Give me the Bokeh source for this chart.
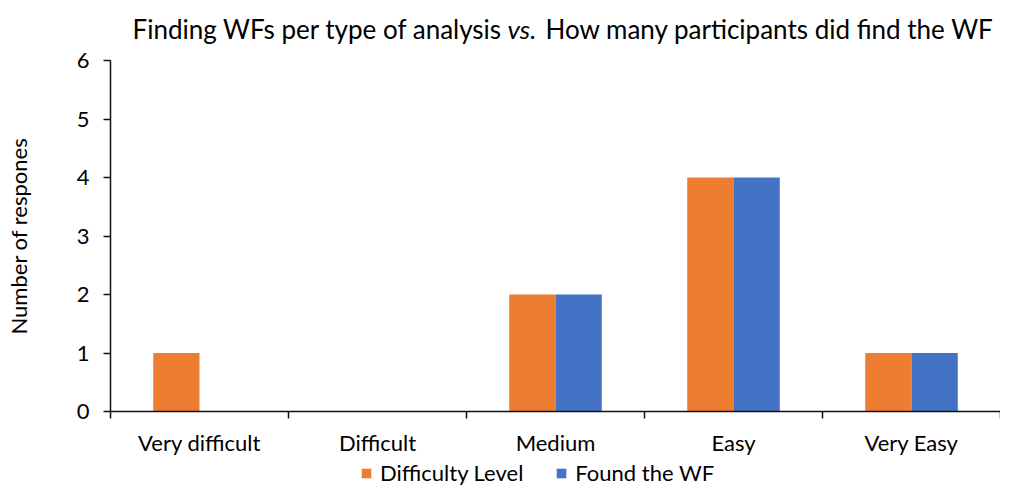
from bokeh.plotting import figure
from bokeh.layouts import column
from bokeh.models import FixedTicker, Legend, LegendItem, Range1d, ColumnDataSource
from bokeh.core.properties import value
from bokeh.transform import dodge
from bokeh.embed import file_html
from bokeh.resources import INLINE

categories = ["Very difficult", "Difficult", "Medium", "Easy", "Very Easy"]
difficulty_level = [1, 0, 2, 4, 1]
found_the_wf = [0, 0, 2, 4, 1]
y_ticks = [0, 1, 2, 3, 4, 5, 6]
series_names = ["Difficulty Level", "Found the WF"]
title_parts = ["Finding WFs per type of analysis", "vs.", "How many participants did find the WF"]
y_label = "Number of respones"

FONT = "Lato"
TXT = "#000000"
ORANGE = "#ED7D31"
BLUE = "#4472C4"
W = 1000
LEFT = 110
TITLE_H = 46
LEG_H = 28
MAIN_H = 486 - TITLE_H - LEG_H
TITLE_SIZE = "26px"


def strip(height):
    f = figure(width=W, height=height, output_backend="svg", toolbar_location=None,
               x_range=Range1d(LEFT, W), y_range=Range1d(0, height),
               min_border_left=0, min_border_right=0, min_border_top=0, min_border_bottom=0)
    f.axis.visible = False
    f.grid.visible = False
    f.outline_line_color = None
    return f


# ---------- title strip (frame aligned with the chart frame; data units = pixels) ----------
t = strip(TITLE_H)
ty = TITLE_H - 28
t.text(x=[502], y=[ty], text=[title_parts[0]], text_align="right", text_baseline="middle",
       text_font=value(FONT), text_font_size=TITLE_SIZE, text_color=TXT)
t.text(x=[507], y=[ty], text=[title_parts[1]], text_align="left", text_baseline="middle",
       text_font=value(FONT), text_font_size=TITLE_SIZE, text_font_style="italic", text_color=TXT)
t.text(x=[545], y=[ty], text=[title_parts[2]], text_align="left", text_baseline="middle",
       text_font=value(FONT), text_font_size=TITLE_SIZE, text_color=TXT)

# ---------- main chart ----------
idx = list(range(len(categories)))
src = ColumnDataSource(dict(x=idx, d=difficulty_level, f=found_the_wf))

p = figure(width=W, height=MAIN_H, output_backend="svg", toolbar_location=None,
           x_range=Range1d(-0.5, len(categories) - 0.5), y_range=Range1d(0, max(y_ticks)),
           min_border_left=LEFT, min_border_right=0, min_border_top=14, min_border_bottom=37)
p.outline_line_color = None
p.xgrid.visible = False
p.ygrid.visible = False

r1 = p.vbar(x=dodge("x", -0.13), top="d", width=0.26, source=src,
            fill_color=ORANGE, line_color=None)
r2 = p.vbar(x=dodge("x", 0.13), top="f", width=0.26, source=src,
            fill_color=BLUE, line_color=None)

ya = p.yaxis[0]
ya.ticker = FixedTicker(ticks=y_ticks, minor_ticks=[])
ya.axis_line_color = "#111111"
ya.axis_line_width = 1.5
ya.major_tick_line_color = "#111111"
ya.major_tick_line_width = 1.5
ya.major_tick_out = 7
ya.major_tick_in = 0
ya.minor_tick_out = 0
ya.minor_tick_in = 0
ya.major_label_standoff = 14
ya.major_label_text_font = FONT
ya.major_label_text_font_size = "22px"
ya.major_label_text_color = TXT
ya.axis_label = y_label
ya.axis_label_text_font = FONT
ya.axis_label_text_font_size = "22px"
ya.axis_label_text_font_style = "normal"
ya.axis_label_text_color = TXT
ya.axis_label_standoff = 42

xa = p.xaxis[0]
xa.ticker = FixedTicker(ticks=idx, minor_ticks=[i - 0.5 for i in range(len(categories) + 1)])
xa.major_label_overrides = {i: c for i, c in enumerate(categories)}
xa.axis_line_color = "#111111"
xa.axis_line_width = 1.5
xa.major_tick_out = 0
xa.major_tick_in = 0
xa.minor_tick_out = 7
xa.minor_tick_in = 0
xa.minor_tick_line_color = "#111111"
xa.minor_tick_line_width = 1.5
xa.major_label_standoff = 10
xa.major_label_text_font = FONT
xa.major_label_text_font_size = "22px"
xa.major_label_text_color = TXT

# ---------- legend strip ----------
lg = strip(LEG_H)
s1 = lg.vbar(x=idx, top=difficulty_level, width=0.26, fill_color=ORANGE, line_color=None, visible=False)
s2 = lg.vbar(x=idx, top=found_the_wf, width=0.26, fill_color=BLUE, line_color=None, visible=False)
legend = Legend(items=[LegendItem(label=series_names[0], renderers=[s1]),
                       LegendItem(label=series_names[1], renderers=[s2])],
                orientation="horizontal", location=(360 - LEFT, 0))
legend.glyph_width = 12
legend.glyph_height = 12
legend.label_standoff = 8
legend.label_height = 18
legend.spacing = 32
legend.padding = 0
legend.margin = 0
legend.border_line_color = None
legend.background_fill_alpha = 0
legend.inactive_fill_alpha = 0
legend.label_text_font = FONT
legend.label_text_font_size = "22px"
legend.label_text_color = TXT
lg.add_layout(legend)

layout = column(t, p, lg, spacing=0)
open("out.html", "w").write(file_html(layout, INLINE))
